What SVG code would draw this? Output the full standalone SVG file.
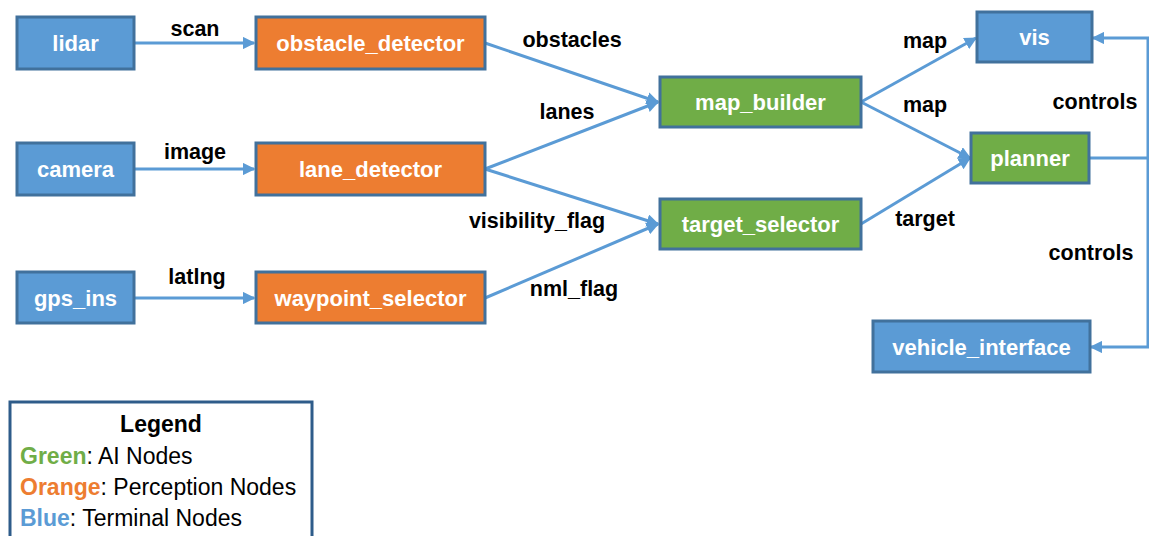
<svg xmlns="http://www.w3.org/2000/svg" width="1149" height="536" viewBox="0 0 1149 536">
  <style>
    .node rect { stroke: #41719C; stroke-width: 3; }
    .blue rect { fill: #5B9BD5; }
    .orange rect { fill: #ED7D31; }
    .green rect { fill: #70AD47; }
    .node text { fill: #FFFFFF; font-family: "Liberation Sans", Arial, sans-serif; font-weight: bold; font-size: 22px; text-anchor: middle; dominant-baseline: central; }
    .edges line { stroke: #5B9BD5; stroke-width: 3; fill: none; }
    .elabel { fill: #000000; font-family: "Liberation Sans", Arial, sans-serif; font-weight: bold; font-size: 21.5px; text-anchor: middle; dominant-baseline: central; }
    .legend text { font-family: "Liberation Sans", Arial, sans-serif; font-size: 23px; fill: #000000; }
  </style>
  <defs>
    <marker id="arrow" viewBox="0 0 10 10" refX="9" refY="5" markerWidth="4.2" markerHeight="4.2" orient="auto" markerUnits="strokeWidth">
      <path d="M0,0 L10,5 L0,10 Z" fill="#5B9BD5"/>
    </marker>
  </defs>
  <rect width="1149" height="536" fill="#FFFFFF"/>

  <!-- connectors -->
  <g class="edges">
    <line x1="134" y1="43" x2="254" y2="43" marker-end="url(#arrow)"/>
    <line x1="134" y1="169" x2="254" y2="169" marker-end="url(#arrow)"/>
    <line x1="134" y1="298" x2="254" y2="298" marker-end="url(#arrow)"/>
    <line x1="485" y1="43" x2="658" y2="102" marker-end="url(#arrow)"/>
    <line x1="485" y1="169" x2="658" y2="102" marker-end="url(#arrow)"/>
    <line x1="485" y1="169" x2="658" y2="224" marker-end="url(#arrow)"/>
    <line x1="485" y1="298" x2="658" y2="224" marker-end="url(#arrow)"/>
    <line x1="861" y1="102" x2="976" y2="38" marker-end="url(#arrow)"/>
    <line x1="861" y1="102" x2="970" y2="158" marker-end="url(#arrow)"/>
    <line x1="861" y1="224" x2="970" y2="158" marker-end="url(#arrow)"/>
    <line x1="1089" y1="158" x2="1149" y2="158"/>
    <line x1="1148" y1="38" x2="1148" y2="347"/>
    <line x1="1149" y1="38" x2="1093" y2="38" marker-end="url(#arrow)"/>
    <line x1="1149" y1="347" x2="1091" y2="347" marker-end="url(#arrow)"/>
  </g>

  <!-- connector labels -->
  <g class="edge-labels">
    <text class="elabel" x="195" y="29">scan</text>
    <text class="elabel" x="195" y="152">image</text>
    <text class="elabel" x="197" y="277">latlng</text>
    <text class="elabel" x="572" y="40">obstacles</text>
    <text class="elabel" x="567" y="112">lanes</text>
    <text class="elabel" x="537" y="221">visibility_flag</text>
    <text class="elabel" x="574" y="289">nml_flag</text>
    <text class="elabel" x="925" y="41">map</text>
    <text class="elabel" x="925" y="105">map</text>
    <text class="elabel" x="925" y="219">target</text>
    <text class="elabel" x="1095" y="102">controls</text>
    <text class="elabel" x="1091" y="253">controls</text>
  </g>

  <!-- nodes -->
  <g id="lidar" class="node blue"><rect x="17" y="17" width="117" height="52"/><text x="75.5" y="43">lidar</text></g>
  <g id="camera" class="node blue"><rect x="17" y="143" width="117" height="52"/><text x="75.5" y="169">camera</text></g>
  <g id="gps_ins" class="node blue"><rect x="17" y="272" width="117" height="51"/><text x="75.5" y="298">gps_ins</text></g>
  <g id="obstacle_detector" class="node orange"><rect x="256" y="17" width="229" height="52"/><text x="370.5" y="43">obstacle_detector</text></g>
  <g id="lane_detector" class="node orange"><rect x="256" y="143" width="229" height="52"/><text x="370.5" y="169">lane_detector</text></g>
  <g id="waypoint_selector" class="node orange"><rect x="256" y="272" width="229" height="51"/><text x="370.5" y="298">waypoint_selector</text></g>
  <g id="map_builder" class="node green"><rect x="660" y="77" width="201" height="50"/><text x="760.5" y="102">map_builder</text></g>
  <g id="target_selector" class="node green"><rect x="660" y="199" width="201" height="50"/><text x="760.5" y="224">target_selector</text></g>
  <g id="vis" class="node blue"><rect x="977" y="12" width="115" height="50"/><text x="1034.5" y="37">vis</text></g>
  <g id="planner" class="node green"><rect x="971" y="133" width="118" height="50"/><text x="1030" y="158">planner</text></g>
  <g id="vehicle_interface" class="node blue"><rect x="873" y="321" width="217" height="51"/><text x="981.5" y="347">vehicle_interface</text></g>

  <!-- legend -->
  <g id="legend" class="legend">
    <rect x="10" y="402" width="302" height="150" fill="#FFFFFF" stroke="#2E5C8A" stroke-width="3"/>
    <text x="161" y="432" text-anchor="middle" font-weight="bold">Legend</text>
    <text x="20" y="464"><tspan fill="#70AD47" font-weight="bold">Green</tspan>: AI Nodes</text>
    <text x="20" y="495"><tspan fill="#ED7D31" font-weight="bold">Orange</tspan>: Perception Nodes</text>
    <text x="20" y="526"><tspan fill="#5B9BD5" font-weight="bold">Blue</tspan>: Terminal Nodes</text>
  </g>
</svg>
